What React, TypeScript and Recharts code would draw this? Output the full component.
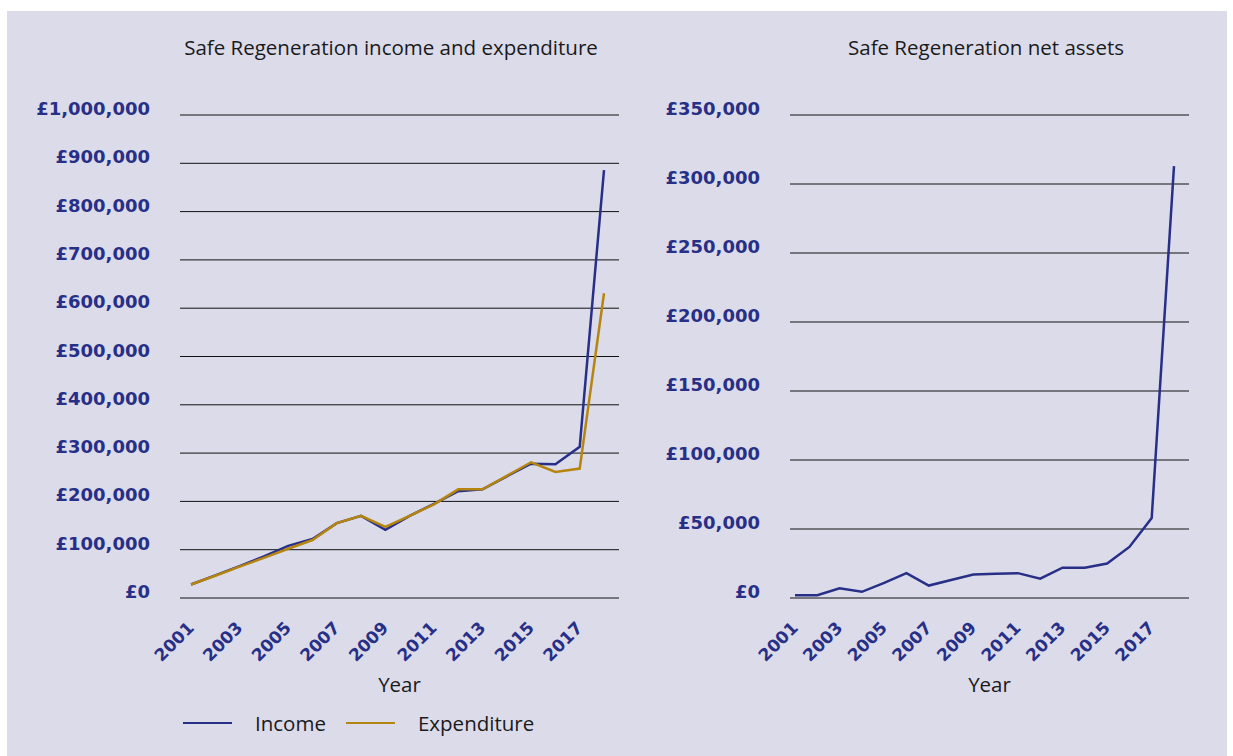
import { LineChart, Line, XAxis, YAxis, CartesianGrid, Legend } from 'recharts';

const years = ['2001', '2002', '2003', '2004', '2005', '2006', '2007', '2008', '2009', '2010', '2011', '2012', '2013', '2014', '2015', '2016', '2017', '2018'];
const income = [28000, 47000, 66000, 86000, 108000, 122000, 155000, 170000, 141000, 170000, 195000, 221000, 225000, 252000, 278000, 277000, 313000, 886000];
const expenditure = [28000, 46000, 65000, 83000, 102000, 120000, 155000, 170000, 147000, 170000, 194000, 225000, 225000, 253000, 281000, 261000, 268000, 631000];
const netAssets = [2000, 2000, 7000, 4500, 11000, 18000, 9000, 13000, 17000, 17500, 18000, 14000, 22000, 22000, 25000, 37000, 58000, 313000];
const incomeTicks = [0, 100000, 200000, 300000, 400000, 500000, 600000, 700000, 800000, 900000, 1000000];
const assetTicks = [0, 50000, 100000, 150000, 200000, 250000, 300000, 350000];
const legendOrder = ['Income', 'Expenditure'];

const flowData = years.map((year, i) => ({ year, income: income[i], expenditure: expenditure[i] }));
const assetData = years.map((year, i) => ({ year, assets: netAssets[i] }));

const NAVY = '#272f86';
const GOLD = '#b5850f';
const BG = '#dcdbea';
const FONT = '"Open Sans", Lato, sans-serif';
const BOLD_FONT = '"DejaVu Sans", "Open Sans", sans-serif';

const money = (v: number) => '£' + v.toLocaleString('en-GB');

const YTick = ({ x, y, payload }: any) => (
  <text x={x} y={y} textAnchor="end" fill={NAVY} fontSize={18} fontWeight={700} fontFamily={BOLD_FONT}>
    {money(payload.value)}
  </text>
);

const XTick = ({ x, y, payload }: any) => (
  <g transform={`translate(${x + 4},${y + 31})`}>
    <text x={0} y={0} textAnchor="end" transform="rotate(-45)" fill={NAVY} fontSize={17} fontWeight={700} fontFamily={BOLD_FONT}>
      {payload.value}
    </text>
  </g>
);

const LegendBox = ({ payload }: any) => {
  const items = [...(payload || [])].sort((a: any, b: any) => legendOrder.indexOf(a.value) - legendOrder.indexOf(b.value));
  return (
    <div style={{ display: 'flex', alignItems: 'center', fontSize: 20.5, color: '#1a1a1a' }}>
      {items.map((p: any) => (
        <div key={p.value} style={{ display: 'flex', alignItems: 'center', marginRight: 20 }}>
          <div style={{ width: 49, height: 2.5, background: p.color, marginRight: 23 }} />
          <span>{p.value}</span>
        </div>
      ))}
    </div>
  );
};

const title = (text: string, center: number) => (
  <div
    style={{
      position: 'absolute',
      left: center - 300,
      width: 600,
      top: 33,
      textAlign: 'center',
      fontSize: 20.5,
      color: '#1a1a1a',
    }}
  >
    {text}
  </div>
);

export default function App() {
  return (
    <div style={{ position: 'absolute', left: 0, top: 0, width: 1233, height: 756, background: '#fff', fontFamily: FONT, overflow: 'hidden' }}>
      <div style={{ position: 'absolute', left: 7, top: 11, width: 1220, height: 745, background: BG }} />
      {title('Safe Regeneration income and expenditure', 391)}
      {title('Safe Regeneration net assets', 986)}

      <div style={{ position: 'absolute', left: 0, top: 0 }}>
        <LineChart width={640} height={756} data={flowData} margin={{ top: 115, right: 21, bottom: 2, left: 10 }}>
          <CartesianGrid vertical={false} stroke="#111" strokeWidth={1} />
          <XAxis
            dataKey="year"
            interval={1}
            height={156}
            padding={{ left: 11, right: 15 }}
            axisLine={false}
            tickLine={false}
            tickSize={0}
            tickMargin={0}
            tick={<XTick />}
            label={{ value: 'Year', position: 'insideTop', offset: 79, fill: '#1a1a1a', fontSize: 20.5 }}
          />
          <YAxis
            width={170}
            domain={[0, 1000000]}
            ticks={incomeTicks}
            axisLine={false}
            tickLine={false}
            tickSize={0}
            tickMargin={30}
            tick={<YTick />}
          />
          <Legend
            layout="horizontal"
            verticalAlign="middle"
            align="center"
            wrapperStyle={{ top: 709, left: 183, width: 420 }}
            content={<LegendBox />}
          />
          <Line name="Income" dataKey="income" stroke={NAVY} strokeWidth={2.5} dot={false} isAnimationActive={false} />
          <Line name="Expenditure" dataKey="expenditure" stroke={GOLD} strokeWidth={2.5} dot={false} isAnimationActive={false} />
        </LineChart>
      </div>

      <div style={{ position: 'absolute', left: 610, top: 0 }}>
        <LineChart width={600} height={756} data={assetData} margin={{ top: 115, right: 21, bottom: 2, left: 10 }}>
          <CartesianGrid vertical={false} stroke="#111" strokeWidth={1} />
          <XAxis
            dataKey="year"
            interval={1}
            height={156}
            padding={{ left: 5, right: 15 }}
            axisLine={false}
            tickLine={false}
            tickSize={0}
            tickMargin={0}
            tick={<XTick />}
            label={{ value: 'Year', position: 'insideTop', offset: 79, fill: '#1a1a1a', fontSize: 20.5 }}
          />
          <YAxis
            width={170}
            domain={[0, 350000]}
            ticks={assetTicks}
            axisLine={false}
            tickLine={false}
            tickSize={0}
            tickMargin={30}
            tick={<YTick />}
          />
          <Line name="Net assets" dataKey="assets" stroke={NAVY} strokeWidth={2.5} dot={false} isAnimationActive={false} />
        </LineChart>
      </div>
    </div>
  );
}
